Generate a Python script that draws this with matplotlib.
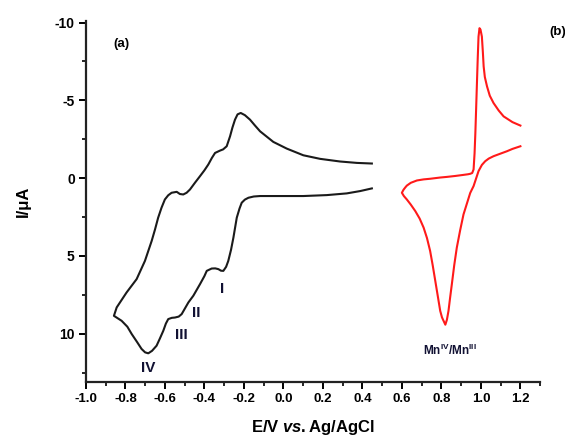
import matplotlib
matplotlib.use('Agg')
import matplotlib.pyplot as plt
from matplotlib.ticker import MultipleLocator

plt.rcParams['font.family'] = ['Liberation Sans', 'DejaVu Sans']
plt.rcParams['font.weight'] = 'bold'
plt.rcParams['axes.unicode_minus'] = False
plt.rcParams['mathtext.fontset'] = 'custom'
plt.rcParams['mathtext.rm'] = 'Liberation Sans:bold'
plt.rcParams['mathtext.it'] = 'Liberation Sans:italic:bold'
plt.rcParams['mathtext.bf'] = 'Liberation Sans:bold'

# (a) curva negra - barrido catódico/anódico
a_ida_E = [0.448, 0.372, 0.287, 0.186, 0.101, 0.017, -0.051, -0.118, -0.145,
           -0.169, -0.195, -0.216, -0.232, -0.245, -0.258, -0.270, -0.287,
           -0.305, -0.321, -0.346, -0.362, -0.380, -0.400, -0.422, -0.448,
           -0.473, -0.490, -0.507, -0.524, -0.540, -0.566, -0.583, -0.600,
           -0.617, -0.634, -0.650, -0.667, -0.701, -0.743, -0.794, -0.844,
           -0.858]
a_ida_I = [-0.94, -0.98, -1.07, -1.24, -1.47, -1.90, -2.33, -3.01, -3.40,
           -3.76, -4.05, -4.19, -4.10, -3.76, -3.25, -2.69, -2.05,
           -1.85, -1.77, -1.62, -1.30, -0.88, -0.50, -0.13, 0.30,
           0.73, 0.94, 1.05, 1.02, 0.88, 0.94, 1.10, 1.37,
           1.90, 2.54, 3.30, 4.04, 5.32, 6.49, 7.35, 8.31,
           8.85]
a_vuelta_E = [-0.858, -0.819, -0.790, -0.768, -0.740, -0.718, -0.700, -0.684,
              -0.665, -0.642, -0.625, -0.608, -0.595, -0.583, -0.565, -0.549,
              -0.530, -0.515, -0.481, -0.456, -0.422, -0.400, -0.388, -0.363,
              -0.345, -0.329, -0.316, -0.304, -0.290, -0.279, -0.265, -0.253,
              -0.236, -0.222, -0.211, -0.195, -0.177, -0.150, -0.118, -0.067,
              0.101, 0.220, 0.321, 0.389, 0.448]
a_vuelta_I = [8.85, 9.17, 9.55, 10.02, 10.55, 10.98, 11.20, 11.26,
              11.10, 10.77, 10.30, 9.81, 9.35, 9.06, 8.98, 8.96,
              8.90, 8.74, 7.99, 7.56, 6.81, 6.30, 5.96, 5.81,
              5.80, 5.85, 5.95, 5.96, 5.70, 5.32, 4.60, 3.82,
              2.54, 1.95, 1.58, 1.38, 1.26, 1.18, 1.15, 1.15,
              1.15, 1.09, 0.98, 0.83, 0.66]

# (b) curva roja - Mn(IV)/Mn(III)
b_vuelta_E = [1.200, 1.160, 1.132, 1.100, 1.064, 1.040, 1.022, 1.005, 0.988,
              0.975, 0.963, 0.946, 0.930, 0.912, 0.895, 0.878, 0.865, 0.853,
              0.844, 0.836, 0.828, 0.820, 0.812, 0.803, 0.794, 0.782, 0.769,
              0.756, 0.743, 0.727, 0.710, 0.690, 0.668, 0.645, 0.625, 0.610,
              0.600]
b_vuelta_I = [-2.05, -1.88, -1.73, -1.58, -1.41, -1.26, -1.09, -0.85, -0.45,
              0.05, 0.51, 0.95, 1.60, 2.33, 3.35, 4.47, 5.60, 6.81,
              7.70, 8.53, 9.10, 9.42, 9.20, 8.95, 8.53, 7.60, 6.60,
              5.60, 4.68, 3.85, 3.18, 2.60, 2.12, 1.70, 1.37, 1.15,
              0.94]
b_ida_E = [0.600, 0.608, 0.617, 0.625, 0.645, 0.676, 0.710, 0.743, 0.794,
           0.828, 0.870, 0.912, 0.935, 0.946, 0.956, 0.963, 0.968, 0.972,
           0.976, 0.980, 0.984, 0.988, 0.993, 0.998, 1.005, 1.010, 1.014,
           1.020, 1.031, 1.045, 1.064, 1.090, 1.115, 1.160, 1.200]
b_ida_I = [0.94, 0.75, 0.60, 0.48, 0.30, 0.15, 0.08, 0.04, -0.04,
           -0.08, -0.14, -0.21, -0.25, -0.28, -0.33, -0.56, -1.60, -2.90,
           -4.50, -6.11, -7.70, -9.10, -9.64, -9.55, -9.10, -8.10, -7.18,
           -6.50, -5.90, -5.30, -4.83, -4.35, -3.97, -3.60, -3.38]

picos = ['I', 'II', 'III', 'IV']
picos_E = [-0.31, -0.44, -0.515, -0.685]
picos_I = [7.1, 8.65, 10.1, 12.2]

fig = plt.figure(figsize=(5.65, 4.38), dpi=100)
ax = fig.add_axes([0.152, 0.128, 0.804, 0.824])

ax.plot(a_ida_E + a_vuelta_E, a_ida_I + a_vuelta_I, color='#1a1a1a', lw=1.5)
ax.plot(b_vuelta_E + b_ida_E, b_vuelta_I + b_ida_I, color='#ff1a1a', lw=1.5)

for p, e, i in zip(picos, picos_E, picos_I):
    ax.text(e, i, p, ha='center', va='center', fontsize=11,
            fontweight='bold', color='#111133')

ax.text(-0.82, -8.6, '(a)', ha='center', va='center', fontsize=9.5, fontweight='bold')
ax.text(1.39, -9.4, '(b)', ha='center', va='center', fontsize=9.5,
        fontweight='bold', clip_on=False)
ax.text(0.845, 11.1, r'Mn$^{\mathrm{IV}}$/Mn$^{\mathrm{III}}$', ha='center',
        va='center', fontsize=8.5, color='#111133')

ax.set_xlim(-1.0, 1.3)
ax.set_ylim(13.1, -10.1)
ax.xaxis.set_minor_locator(MultipleLocator(0.1))
ax.yaxis.set_minor_locator(MultipleLocator(2.5))
xt = [-1.0, -0.8, -0.6, -0.4, -0.2, 0.0, 0.2, 0.4, 0.6, 0.8, 1.0, 1.2]
yt = [-10, -5, 0, 5, 10]
ax.set_xticks(xt)
ax.set_xticklabels([f'{v:.1f}' for v in xt], fontweight='bold', fontsize=9.5)
ax.set_yticks(yt)
ax.set_yticklabels([str(v) for v in yt], fontweight='bold', fontsize=10)

for s in ['top', 'right']:
    ax.spines[s].set_visible(False)
for s in ['left', 'bottom']:
    ax.spines[s].set_linewidth(1.6)
    ax.spines[s].set_color('#222222')

ax.tick_params(which='major', direction='out', length=5, width=1.4, pad=3)
ax.tick_params(which='minor', direction='out', length=3, width=1.2)

ax.set_xlabel(r'E/V $\mathit{vs.}$Ag/AgCl', fontsize=12, fontweight='bold', labelpad=9)
ax.set_ylabel('I/μA', fontsize=12, fontweight='bold', labelpad=17)

plt.savefig('out.png', dpi=100)
